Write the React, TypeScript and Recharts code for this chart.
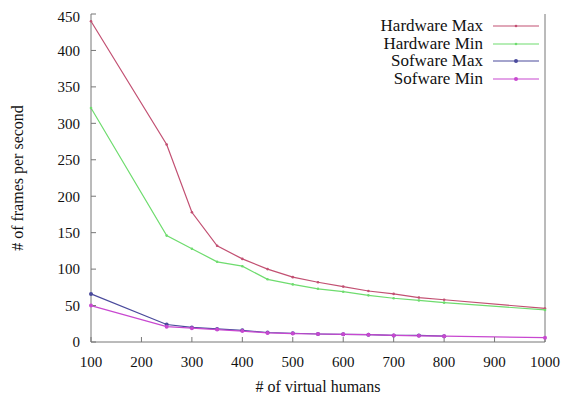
import { LineChart, Line, XAxis, YAxis } from "recharts";

const humans = [100, 250, 300, 350, 400, 450, 500, 550, 600, 650, 700, 750, 800, 1000];
const hardwareMax = [440, 271, 178, 132, 114, 100, 89, 82, 76, 70, 66, 61, 58, 46];
const hardwareMin = [321, 146, 128, 110, 104, 86, 79, 73, 69, 64, 60, 57, 54, 44];
const softwareMax = [66, 24, 20, 18, 16, 13, 12, 11, 10.5, 10, 9, 9, 8, null];
const softwareMin = [50, 21, 19, 17, 15, 12.5, 11.5, 11, 10.5, 10, 9, 8.5, 8, 6];

const xTicks = [100, 200, 300, 400, 500, 600, 700, 800, 900, 1000];
const yTicks = [0, 50, 100, 150, 200, 250, 300, 350, 400, 450];

const SERIES = [
  { key: "hwMax", name: "Hardware Max", color: "#c25072", r: 1.3 },
  { key: "hwMin", name: "Hardware Min", color: "#6edc6e", r: 1.3 },
  { key: "swMax", name: "Sofware Max", color: "#4a4a9c", r: 2 },
  { key: "swMin", name: "Sofware Min", color: "#c848d0", r: 2 },
];

const rows = humans.map((h, i) => ({
  humans: h,
  hwMax: hardwareMax[i],
  hwMin: hardwareMin[i],
  swMax: softwareMax[i],
  swMin: softwareMin[i],
}));

const FONT = "Liberation Serif";
const AXIS = "#777";
const tickStyle = { fill: "#111", fontFamily: FONT, fontSize: 15, style: { fontFamily: FONT } };

function LegendBox() {
  return (
    <div
      style={{
        position: "absolute",
        top: 9,
        left: 300,
        width: 231,
        fontSize: 17,
        lineHeight: "17.7px",
        color: "#111",
      }}
    >
      {SERIES.map((s) => (
        <div key={s.key} style={{ display: "flex", justifyContent: "flex-end", alignItems: "center" }}>
          <span>{s.name}</span>
          <svg width={46} height={10} style={{ marginLeft: 10 }}>
            <line x1={0} y1={5} x2={46} y2={5} stroke={s.color} strokeWidth={1.2} />
            <circle cx={23} cy={5} r={s.r} fill={s.color} />
          </svg>
        </div>
      ))}
    </div>
  );
}

export default function App() {
  return (
    <div style={{ position: "relative", width: 555, height: 388, fontFamily: FONT }}>
      <div
        style={{
          position: "absolute",
          left: 10,
          top: 170,
          transform: "translate(-50%, -50%) rotate(-90deg)",
          fontSize: 16,
          fontFamily: FONT,
          whiteSpace: "nowrap",
          color: "#111",
        }}
      >
        # of frames per second
      </div>
      <LineChart
        width={555}
        height={388}
        data={rows}
        margin={{ top: 6, right: 0, bottom: 0, left: 0 }}
        style={{ fontFamily: FONT }}
      >
        <XAxis
          xAxisId="b"
          dataKey="humans"
          type="number"
          domain={[100, 1000]}
          ticks={xTicks}
          height={54}
          tickSize={-5}
          tickMargin={19}
          stroke={AXIS}
          tick={tickStyle}
          label={{
            value: "# of virtual humans",
            position: "insideBottom",
            offset: 4,
            fill: "#111",
            fontFamily: FONT,
            fontSize: 16,
            style: { fontFamily: FONT },
          }}
        />
        <XAxis
          xAxisId="t"
          orientation="top"
          dataKey="humans"
          type="number"
          domain={[100, 1000]}
          ticks={xTicks}
          height={0}
          tickSize={-5}
          stroke={AXIS}
          tickFormatter={() => ""}
        />
        <YAxis
          yAxisId="l"
          domain={[0, 450]}
          ticks={yTicks}
          width={83}
          tickSize={-5}
          tickMargin={16}
          stroke={AXIS}
          tick={tickStyle}
        />
        <YAxis
          yAxisId="r"
          orientation="right"
          domain={[0, 450]}
          ticks={yTicks}
          width={18}
          tickSize={-5}
          stroke={AXIS}
          tickFormatter={() => ""}
        />
        {SERIES.map((s) => (
          <Line
            key={s.key}
            xAxisId="b"
            yAxisId="l"
            dataKey={s.key}
            name={s.name}
            type="linear"
            stroke={s.color}
            strokeWidth={1.2}
            dot={{ r: s.r, fill: s.color, stroke: "none" }}
            activeDot={false}
            isAnimationActive={false}
          />
        ))}
      </LineChart>
      <LegendBox />
    </div>
  );
}
